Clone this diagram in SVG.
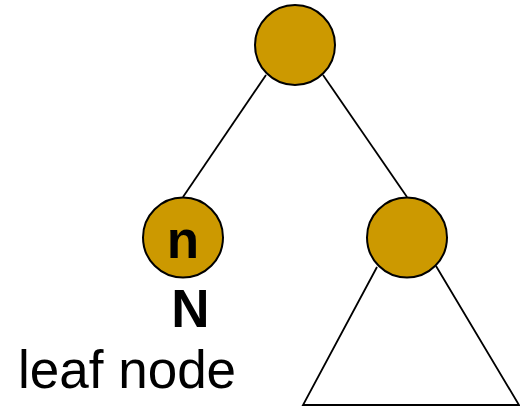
<svg xmlns="http://www.w3.org/2000/svg" width="520" height="408" viewBox="0 0 520 408">
  <style>
    .node { fill: #CC9900; stroke: #000; stroke-width: 2; }
    .edge { stroke: #000; stroke-width: 1.8; fill: none; }
    .lbl { font-family: "Liberation Sans", Arial, sans-serif; font-size: 53px; fill: #000; }
    .b { font-weight: bold; }
  </style>
  <rect width="520" height="408" fill="#fff"/>
  <g id="connectors">
    <line class="edge" x1="266" y1="75" x2="183" y2="197"/>
    <line class="edge" x1="323" y1="75" x2="407" y2="197"/>
    <!-- subtree outline under the right child -->
    <path class="edge" d="M377,267 L303,405 L519,405 L436,266"/>
  </g>
  <g id="root">
    <circle class="node" cx="295" cy="45" r="40"/>
  </g>
  <g id="leaf">
    <circle class="node" cx="183" cy="237.5" r="40"/>
    <text class="lbl b" x="183" y="258" text-anchor="middle">n</text>
    <text class="lbl b" x="190.5" y="327" text-anchor="middle">N</text>
    <text class="lbl" x="18" y="388">leaf node</text>
  </g>
  <g id="right">
    <circle class="node" cx="407" cy="237.5" r="40"/>
  </g>
</svg>
